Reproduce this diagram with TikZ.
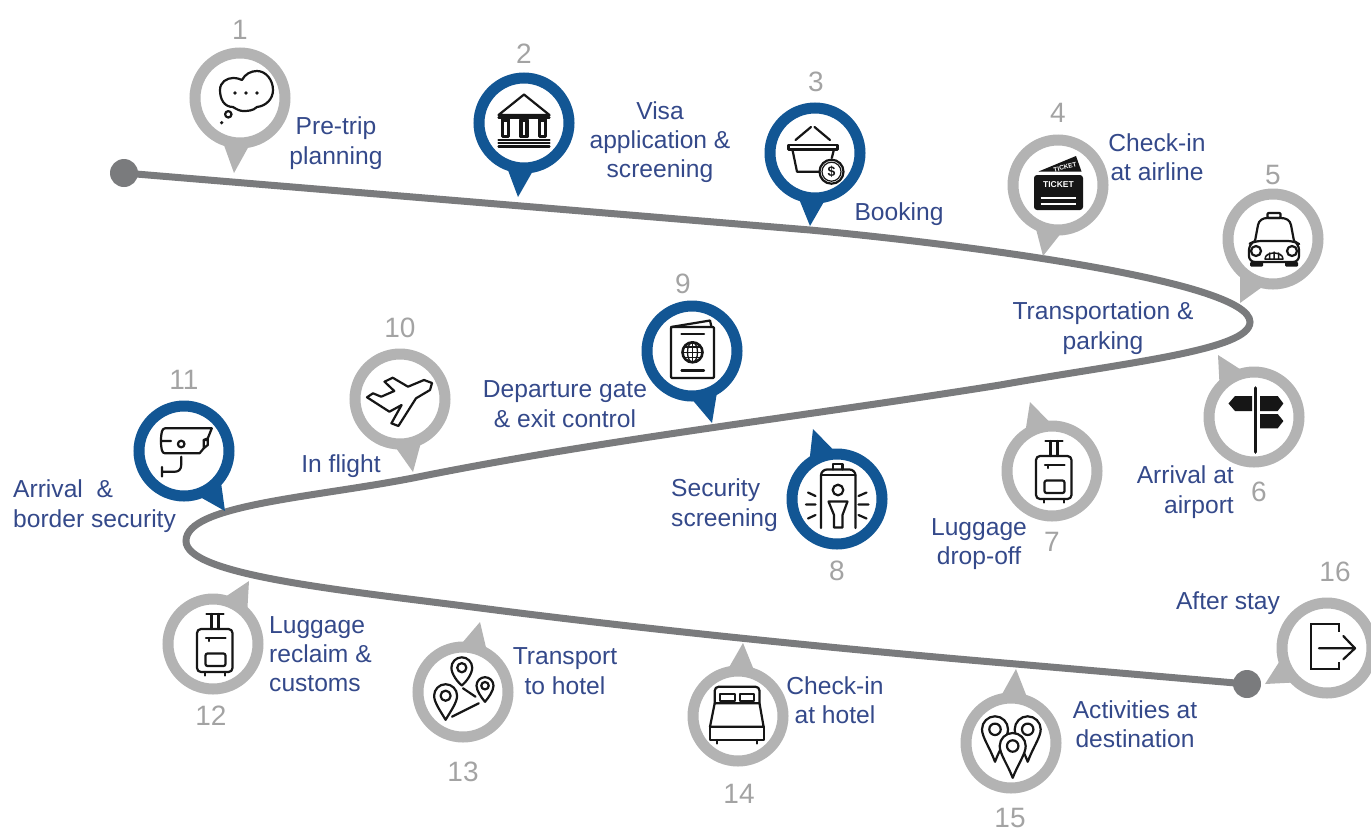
\documentclass[tikz,border=0pt]{standalone}
\usepackage{fontspec}
\setmainfont{Liberation Sans}
\usetikzlibrary{calc}
\definecolor{pingray}{HTML}{B3B3B3}
\definecolor{pinblue}{HTML}{125694}
\definecolor{roadgray}{HTML}{7A7B7D}
\definecolor{numgray}{HTML}{A3A3A3}
\definecolor{labelblue}{HTML}{34498A}
\definecolor{iconblack}{HTML}{161616}
\tikzset{
  pinring/.style={circle,line width=11pt,fill=white,minimum size=90pt,inner sep=0pt,outer sep=0pt},
  numlabel/.style={text=numgray,font=\fontsize{28}{30}\selectfont,inner sep=0pt},
  steplabel/.style={text=labelblue,font=\fontsize{24.6}{29.3}\selectfont,inner sep=0pt},
  roadline/.style={draw=roadgray,line width=7pt},
  roaddot/.style={circle,fill=roadgray,minimum size=28pt,inner sep=0pt},
  icon/.style={draw=iconblack,line width=2.2pt,line join=round,line cap=round},
  iconfill/.style={fill=iconblack,draw=none}
}
\newcommand{\luggageicon}{
  \draw[icon,rounded corners=4pt] (-16,-15) rectangle (19.5,28);
  \draw[icon] (-1.5,-15) -- (-1.5,-30) (5.5,-15) -- (5.5,-30) (-6.5,-30) -- (10.5,-30);
  \draw[icon] (-7,-6) -- (12.5,-6) (-4,-6) -- (-4,-3);
  \draw[icon,rounded corners=2pt] (-7.5,9.5) rectangle (12.5,22);
  \draw[icon] (-8,28) -- (-8,31.5) (12,28) -- (12,31.5);
}
\newcommand{\mappin}[4]{
  \begin{scope}[shift={(#1,#2)},scale=#3]
    \draw[icon,fill=white] (0,#4) .. controls (-.4,1.4) and (-1,.6) .. (-1,0) .. controls (-1,-.55) and (-.55,-1) .. (0,-1) .. controls (.55,-1) and (1,-.55) .. (1,0) .. controls (1,.6) and (.4,1.4) .. cycle;
    \draw[icon] (0,0) circle (.44);
  \end{scope}
}
\begin{document}
\begin{tikzpicture}[x=1pt,y=-1pt]
  \useasboundingbox (0,0) rectangle (1371,831);
  \clip (0,0) rectangle (1371,831);

  \node[roaddot] (startdot) at (124,173) {};
  \node[roaddot] (enddot) at (1247,684) {};
  \coordinate (way-1) at (810,230);
  \coordinate (way-2) at (1250,322);
  \coordinate (way-3) at (1000,385);
  \coordinate (way-4) at (413,478);
  \coordinate (way-5) at (186,541);
  \coordinate (way-6) at (480,608);
  \coordinate (way-7) at (1016,664);
  \draw[roadline] (startdot.center) -- (way-1)
    .. controls (950,243) and (1250,280) .. (way-2)
    .. controls (1250,350) and (1130,362) .. (way-3)
    .. controls (800,417) and (600,440) .. (way-4)
    .. controls (310,498) and (186,505) .. (way-5)
    .. controls (186,575) and (340,590) .. (way-6)
    .. controls (650,630) and (850,650) .. (way-7)
    -- (enddot.center);

  \foreach \num/\cx/\cy/\tx/\ty/\col in {1/240/98/234/173/pingray, 2/524/123/518/197/pinblue, 3/815/153/810/226/pinblue,
      4/1058/185/1043/256/pingray, 5/1273/239/1240/303/pingray, 6/1254/417/1218/355/pingray,
      7/1052/471/1030/402/pingray, 8/837/499/813/429/pinblue, 9/692/351/712/423/pinblue,
      10/400/399/413/472/pingray, 11/184/451/225/511/pinblue, 12/213/644/249/581/pingray,
      13/463/692/480/622/pingray, 14/738/716/743/643/pingray, 15/1011/743/1016/669/pingray,
      16/1327/648/1265/684/pingray} {
    \coordinate (tip-\num) at (\tx,\ty);
    \fill[\col] (tip-\num) -- ($(\cx,\cy)!47pt!17:(tip-\num)$) -- ($(\cx,\cy)!47pt!-17:(tip-\num)$) -- cycle;
    \node[pinring,draw=\col] (pin-\num) at (\cx,\cy) {};
  }

  \foreach \num/\x/\y in {1/240/30, 2/524/54, 3/816/82, 4/1058/113, 5/1273/175, 6/1259/492, 7/1052/542, 8/837/571,
      9/683/284, 10/400/328, 11/184/380, 12/211/716, 13/463/772, 14/739/794, 15/1010/818, 16/1335/572}
    \node[numlabel] (num-\num) at (\x,\y) {\num};

  \foreach \name/\x/\y/\txt in {pretrip/336/143/{Pre-trip\\planning}, visa/660/142/{Visa\\application \&\\screening},
      booking/899/214/{Booking}, airline/1157/157/{Check-in\\at airline}, parking/1103/328/{Transportation \&\\parking},
      dropoff/979/544/{Luggage\\drop-off}, gate/565/404/{Departure gate\\\& exit control}, flight/341/466/{In flight},
      transport/565/671/{Transport\\to hotel}, hotel/835/700/{Check-in\\at hotel}, activities/1135/724/{Activities at\\destination},
      after/1228/603/{After stay}}
    \node[steplabel,align=center] (label-\name) at (\x,\y) {\txt};
  \node[steplabel,align=right,anchor=east] (label-airport) at (1234,492) {Arrival at\\airport};
  \node[steplabel,align=left,anchor=west] (label-security) at (671,505) {Security\\screening};
  \node[steplabel,align=left,anchor=west] (label-border) at (13,506) {Arrival\ \ \&\\border security};
  \node[steplabel,align=left,anchor=west] (label-reclaim) at (269,654) {Luggage\\reclaim \&\\customs};

  \begin{scope}[shift={(pin-1.center)}]
    \draw[icon] (-7,9) .. controls (-16,9) and (-20,1) .. (-20,-8) .. controls (-20,-16) and (-13,-20) .. (-7,-20)
      .. controls (-3,-20) and (0,-19) .. (2,-18) .. controls (5,-24) and (11,-27) .. (17,-27)
      .. controls (26,-27) and (33,-18) .. (33,-8) .. controls (33,1) and (26,8) .. (17,9)
      .. controls (13,13) and (7,13) .. (3,13) .. controls (0,13) and (-4,11) .. (-7,9) -- cycle;
    \foreach \x in {-5,6,17}
      \fill[iconblack] (\x,-5) circle (1.8);
    \draw[icon] (-11.7,16.3) circle (3.2);
    \fill[iconblack] (-18.3,24.7) circle (1.8);
  \end{scope}

  \begin{scope}[shift={(pin-2.center)}]
    \draw[icon] (-25.5,-8) -- (0,-28.5) -- (25.5,-8) -- cycle;
    \draw[icon] (-25.5,-5.5) -- (25.5,-5.5);
    \foreach \x in {-18.5,0,18.5}
      \draw[icon,line width=3.2pt] (\x-3,-3) rectangle (\x+3,13.5);
    \draw[icon] (-25.5,17) -- (25.5,17) (-25.5,20) -- (25.5,20) (-25.5,23.5) -- (25.5,23.5);
  \end{scope}

  \begin{scope}[shift={(pin-3.center)}]
    \draw[icon] (-19.5,-13) -- (-4,-26) (-0.5,-26) -- (15,-13);
    \draw[icon] (-26.5,-8) rectangle (22.5,-3.5);
    \draw[icon] (-22.5,-3) -- (-18,18.7) -- (4,18.7) (18.8,-3) -- (16.8,5);
    \draw[icon,fill=white] (16.5,18.7) circle (12);
    \draw[icon,line width=1.2pt] (16.5,18.7) circle (9.5);
    \node[text=iconblack,font=\bfseries\fontsize{14}{14}\selectfont,inner sep=0pt] (coin-3) at (16.5,18.7) {\$};
  \end{scope}

  \begin{scope}[shift={(pin-4.center)}]
    \fill[iconblack] (-19.5,-13.5) -- (18,-29) -- (23.5,-13.5) -- cycle;
    \begin{scope}
      \clip (-19.5,-13.5) -- (18,-29) -- (23.5,-13.5) -- cycle;
      \node[text=white,font=\bfseries\fontsize{6.5}{7}\selectfont,inner sep=0pt,rotate=14] (ticket-back) at (7,-18) {TICKET};
    \end{scope}
    \fill[iconblack,rounded corners=3pt] (-24,-10) rectangle (25,25);
    \node[text=white,font=\bfseries\fontsize{8.5}{9}\selectfont,inner sep=0pt] (ticket-front) at (0.5,-0.5) {TICKET};
    \draw[white,line width=1.7pt] (-17.5,12.7) -- (18,12.7) (-17.5,19.3) -- (18,19.3);
  \end{scope}

  \begin{scope}[shift={(pin-5.center)}]
    \draw[icon,rounded corners=1pt] (-5.5,-21) rectangle (7.5,-26);
    \draw[icon] (-18,2) -- (-15,-14) .. controls (-14,-19) and (-10,-21) .. (-5.5,-21) -- (7.5,-21) .. controls (13,-21) and (17,-19) .. (18,-14) -- (21,2);
    \draw[icon,rounded corners=6pt] (-24,23) -- (-24,5) -- (-18,2) -- (21,2) -- (26,5) -- (26,23) -- cycle;
    \draw[icon] (-17,12) circle (5) (19,12) circle (5);
    \draw[icon,line width=1.5pt] (-8,20) .. controls (-8,12) and (10,12) .. (10,20) -- cycle (-3.5,14) -- (-3.5,20) (1,13) -- (1,20) (5.5,14) -- (5.5,20);
    \fill[iconblack,rounded corners=1pt] (-23,23) rectangle (-10,27.5) (12,23) rectangle (25,27.5);
  \end{scope}

  \begin{scope}[shift={(pin-6.center)}]
    \draw[icon,line width=3.6pt] (1.5,-29) -- (1.5,35);
    \fill[iconblack] (-25.5,-13.5) -- (-19,-21) -- (-2,-21) -- (-2,-6) -- (-19,-6) -- cycle;
    \fill[iconblack] (6,-21) -- (23.7,-21) -- (29.4,-13.5) -- (23.7,-6) -- (6,-6) -- cycle;
    \fill[iconblack] (6,-3) -- (23.7,-3) -- (29.4,4) -- (23.7,11.3) -- (6,11.3) -- cycle;
  \end{scope}

  \begin{scope}[shift={(pin-7.center)}]
    \luggageicon
  \end{scope}

  \begin{scope}[shift={(pin-8.center)}]
    \draw[icon,rounded corners=6pt] (-16,29) -- (-16,-29.5) -- (18.5,-29.5) -- (18.5,29);
    \draw[icon] (-16,-24) -- (18.5,-24);
    \draw[icon] (-4,-29.5) -- (-4,-35) -- (5.5,-35) -- (5.5,-29.5);
    \draw[icon] (1,-9) circle (5.3);
    \draw[icon] (-8.5,2.5) -- (10.5,2.5) -- (5.5,16) -- (5.5,28.5) -- (-3,28.5) -- (-3,16) -- cycle;
    \draw[icon] (-29,-6.5) -- (-21.5,-3) (-31,5.5) -- (-21.5,5.5) (-29,19.5) -- (-21.5,16);
    \draw[icon] (29.5,-6.5) -- (21.5,-3) (31.5,5.5) -- (21.5,5.5) (29.5,19.5) -- (21.5,16);
  \end{scope}

  \begin{scope}[shift={(pin-9.center)}]
    \draw[icon] (-21,-24) -- (18,-30.5) -- (19.5,-24);
    \draw[icon,rounded corners=1pt] (-21,-24) rectangle (22,27);
    \draw[icon] (-10.5,-17) -- (12,-17) (-10.5,19.5) -- (12,19.5);
    \draw[icon,line width=2.6pt] (0.5,1.3) circle (10);
    \draw[icon,line width=1.3pt] (-9.5,1.3) -- (10.5,1.3) (0.5,-8.7) -- (0.5,11.3) (-8,-4) -- (9,-4) (-8,6.6) -- (9,6.6);
    \draw[icon,line width=1.3pt] (0.5,1.3) ellipse (5 and 10);
  \end{scope}

  \begin{scope}[shift={(pin-10.center)}]
    \draw[icon] (32,-16) -- (24,-19) -- (8,-12.3) -- (-7.3,-21.3) -- (-15.5,-17.3) -- (-5.7,-8) -- (-18.8,-2.3) -- (-27,-5.7) -- (-33,-1.7)
      -- (-10.6,12.7) -- (1.6,6) -- (-8.6,24.3) -- (-1.6,27) -- (16,-0.7) -- (30,-9) -- cycle;
  \end{scope}

  \begin{scope}[shift={(pin-11.center)}]
    \draw[icon] (-19,-22.7) -- (27.8,-22.7) -- (23.8,-12.7) -- (19.7,-11) -- (19.7,-2.7) -- (15.6,2.3) -- (-19,2.3) .. controls (-22,2.3) and (-23,-2) .. (-23,-10) .. controls (-23,-18) and (-22,-22.7) .. (-19,-22.7) -- cycle;
    \draw[icon] (-23,-10) -- (-13,-10) (19.7,-11) -- (24,-11) (23.8,-12.7) -- (23.8,-6) -- (19.7,-2.7);
    \draw[icon] (-2.8,-7) circle (3.3);
    \draw[icon] (-2.8,5.7) -- (-2.8,14) .. controls (-2.8,18) and (-5,20.7) .. (-9,20.7) -- (-22,20.7) (-22,16) -- (-22,25.5);
  \end{scope}

  \begin{scope}[shift={(pin-12.center)}]
    \luggageicon
  \end{scope}

  \begin{scope}[shift={(pin-13.center)}]
    \mappin{-1.2}{-24.3}{10.4}{1.7}
    \mappin{22}{-6.3}{8.5}{1.9}
    \mappin{-17.4}{3.7}{11.5}{2.1}
    \draw[icon] (0,-3.7) -- (12.5,4.7) (-11,24.7) -- (15.8,11.3);
  \end{scope}

  \begin{scope}[shift={(pin-14.center)}]
    \draw[icon,rounded corners=4pt] (-23.3,-12.7) -- (-23.3,-29.3) -- (21.5,-29.3) -- (21.5,-12.7);
    \draw[icon] (-23.3,-12.7) -- (21.5,-12.7) -- (25.6,10.7) -- (-28,10.7) -- cycle;
    \draw[icon] (-28,10.7) -- (-28,24) -- (25.6,24) -- (25.6,10.7);
    \draw[icon] (-18,-22) rectangle (-3,-15.3) (2,-22) rectangle (16,-15.3);
    \draw[icon] (-21,24) -- (-21,27.5) (19,24) -- (19,27.5);
  \end{scope}

  \begin{scope}[shift={(pin-15.center)}]
    \mappin{-16}{-13.7}{13}{2.5}
    \mappin{16.7}{-13.7}{13}{2.5}
    \mappin{1.7}{3}{13}{2.45}
  \end{scope}

  \begin{scope}[shift={(pin-16.center)}]
    \draw[icon,line cap=butt,line join=miter] (12,-16.3) -- (12,-24) -- (-16.3,-24) -- (-16.3,21.3) -- (12,21.3) -- (12,13.7);
    \draw[icon] (-8,0.3) -- (28,0.3) (16.3,-12) -- (28,0.3) -- (16.3,11.3);
  \end{scope}
\end{tikzpicture}
\end{document}
